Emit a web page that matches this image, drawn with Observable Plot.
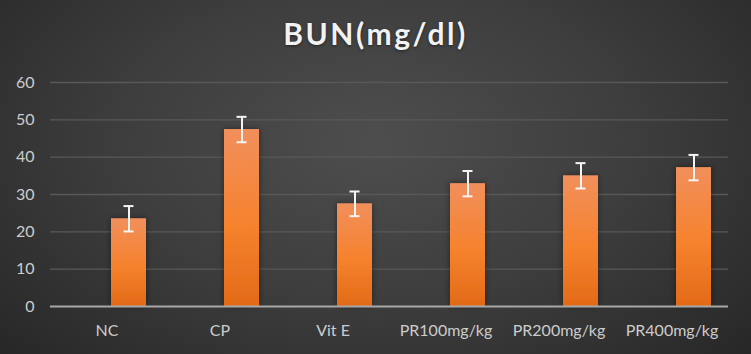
<!DOCTYPE html>
<html>
<head>
<meta charset="utf-8">
<script src="https://cdn.jsdelivr.net/npm/d3@7"></script>
<script src="https://cdn.jsdelivr.net/npm/@observablehq/plot@0.6"></script>
<style>
  html, body { margin: 0; padding: 0; }
  #wrap {
    position: relative; width: 751px; height: 354px; overflow: hidden;
    background: radial-gradient(ellipse 70% 90% at 50% 40%, #4e4e4e 0%, #3d3d3d 50%, #262626 100%);
    font-family: Lato, "Open Sans", sans-serif;
  }
  #title {
    position: absolute; left: 0; top: 15px; width: 751px; text-align: center;
    font-size: 30px; font-weight: bold; letter-spacing: 2.5px; color: #f2f2f2;
    text-shadow: 0 1px 3px rgba(0,0,0,0.5);
  }
  #chart { position: absolute; left: 0; top: 0; }
</style>
</head>
<body>
<div id="wrap">
  <div id="chart"></div>
  <div id="title">BUN(mg/dl)</div>
</div>
<script>
const categories = ["NC", "CP", "Vit E", "PR100mg/kg", "PR200mg/kg", "PR400mg/kg"];
const values = [23.5, 47.4, 27.5, 32.9, 35.0, 37.2];
const errors = [3.4, 3.4, 3.3, 3.4, 3.4, 3.4];
const yTicks = [0, 10, 20, 30, 40, 50, 60];

const data = categories.map((c, i) => ({cat: c, value: values[i], lo: values[i] - errors[i], hi: values[i] + errors[i]}));

const plot = Plot.plot({
  width: 751,
  height: 354,
  marginTop: 82,
  marginBottom: 48,
  marginLeft: 50,
  marginRight: 23,
  style: {background: "transparent", color: "#cccccc", fontFamily: "Lato, 'Open Sans', sans-serif", fontSize: "16px"},
  x: {domain: categories, padding: 0, label: null},
  y: {domain: [0, 60], label: null},
  marks: [
    Plot.ruleY(yTicks.filter(d => d > 0), {stroke: "#585858", strokeWidth: 1.3}),
    Plot.barY(data, {x: "cat", y: "value", fill: "url(#barGrad)", insetLeft: 61, insetRight: 17}),
    Plot.ruleY([0], {stroke: "#a8a8a8", strokeWidth: 2}),
    Plot.ruleX(data, {x: "cat", y1: "lo", y2: "hi", stroke: "#f4f4f4", strokeWidth: 2, dx: 22}),
    Plot.tickY(data, {x: "cat", y: "hi", stroke: "#f4f4f4", strokeWidth: 2, insetLeft: 73.5, insetRight: 29.5}),
    Plot.tickY(data, {x: "cat", y: "lo", stroke: "#f4f4f4", strokeWidth: 2, insetLeft: 73.5, insetRight: 29.5}),
    Plot.axisY({ticks: yTicks, tickSize: 0, tickPadding: 16, fontSize: 16, fill: "#cccccc"}),
    Plot.axisX({tickSize: 0, tickPadding: 18, fontSize: 16, fill: "#cccccc"})
  ]
});

const svg = d3.select(plot);
const defs = svg.insert("defs", ":first-child");
const g = defs.append("linearGradient").attr("id", "barGrad").attr("x1", 0).attr("y1", 0).attr("x2", 0).attr("y2", 1);
g.append("stop").attr("offset", "0%").attr("stop-color", "#f18f5c");
g.append("stop").attr("offset", "55%").attr("stop-color", "#f6822d");
g.append("stop").attr("offset", "100%").attr("stop-color", "#e36a17");
const f = defs.append("filter").attr("id", "shadow").attr("x", "-30%").attr("y", "-10%").attr("width", "160%").attr("height", "120%");
f.append("feDropShadow").attr("dx", 0).attr("dy", 0).attr("stdDeviation", 3).attr("flood-color", "#000").attr("flood-opacity", 0.45);
svg.selectAll("rect").attr("filter", "url(#shadow)");

document.getElementById("chart").appendChild(plot);
</script>
</body>
</html>
